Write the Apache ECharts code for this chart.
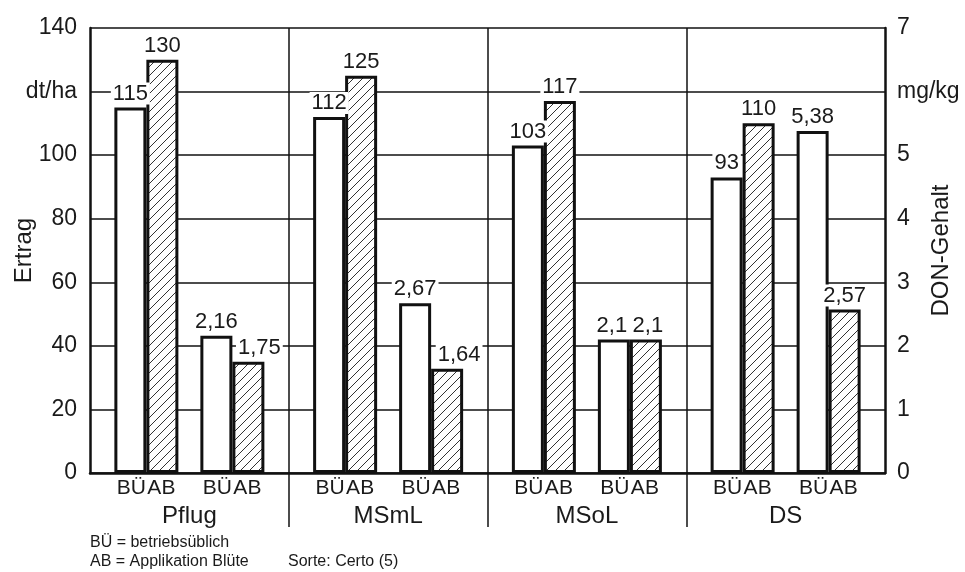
<!DOCTYPE html>
<html>
<head>
<meta charset="utf-8">
<script src="https://cdn.jsdelivr.net/npm/echarts@6/dist/echarts.min.js"></script>
<style>html,body{margin:0;padding:0;background:#fff;}#chart{width:965px;height:572px;}</style>
</head>
<body>
<div id="chart"></div>
<script>
const categories = ['Pflug', 'MSmL', 'MSoL', 'DS'];
const ertragBU = [115, 112, 103, 93];
const ertragAB = [130, 125, 117, 110];
const donBU = [2.16, 2.67, 2.1, 5.38];
const donAB = [1.75, 1.64, 2.1, 2.57];
const leftTicks = ['0', '20', '40', '60', '80', '100', 'dt/ha', '140'];
const rightTicks = ['0', '1', '2', '3', '4', '5', 'mg/kg', '7'];
const barNames = ['BÜ', 'AB'];
const footLeft = ['BÜ = betriebsüblich', 'AB = Applikation Blüte'];
const footRight = 'Sorte: Certo (5)';

// hatch pattern
const hc = document.createElement('canvas');
hc.width = 9; hc.height = 9;
const hx = hc.getContext('2d');
hx.fillStyle = '#fff'; hx.fillRect(0, 0, 9, 9);
hx.strokeStyle = '#333'; hx.lineWidth = 1;
hx.beginPath();
hx.moveTo(0, 9); hx.lineTo(9, 0);
hx.moveTo(-1, 1); hx.lineTo(1, -1);
hx.moveTo(8, 10); hx.lineTo(10, 8);
hx.stroke();

const FONT = 'Liberation Sans, Arial, sans-serif';
const TXT = '#1a1a1a';
const fmt = v => String(v).replace('.', ',');

function labelSeries(stack, name, yIdx, dx) {
  return {
    type: 'bar', stack: stack, yAxisIndex: yIdx, barWidth: 32, barGap: '0%', silent: true,
    data: categories.map(() => 0),
    itemStyle: { color: 'transparent', borderWidth: 0 },
    label: { show: true, position: 'bottom', distance: 5, offset: [dx, 0], formatter: name,
             fontSize: 21, fontFamily: FONT, color: TXT }
  };
}
function valueSeries(stack, values, yIdx, hatched, shifts) {
  return {
    type: 'bar', stack: stack, yAxisIndex: yIdx, barWidth: 32, barGap: '0%',
    data: values.map((v, i) => (shifts && shifts[i]) ? { value: v, label: { offset: [shifts[i], 0] } } : v),
    itemStyle: { color: hatched ? { image: hc, repeat: 'repeat' } : '#fff', borderColor: '#111', borderWidth: 3 },
    label: { show: true, position: 'top', distance: 3, formatter: p => fmt(p.value),
             fontSize: 22, fontFamily: FONT, color: TXT, backgroundColor: '#fff', padding: [0, 2] },
    z: 3
  };
}

const option = {
  animation: false,
  backgroundColor: '#fff',
  grid: [
    { left: 90, right: 80, top: 28, bottom: 99, containLabel: false, outerBoundsMode: 'none' },
    { left: 90, right: 80, top: 28, bottom: 45, containLabel: false, outerBoundsMode: 'none' }
  ],
  xAxis: [
    { type: 'category', data: categories, gridIndex: 0,
      axisLine: { show: true, lineStyle: { color: '#111', width: 2.5 } },
      axisTick: { show: false },
      axisLabel: { fontSize: 24, fontFamily: FONT, color: TXT, margin: 31 },
      splitLine: { show: false } },
    { type: 'value', gridIndex: 1, min: 0, max: 4, interval: 1,
      axisLine: { show: false }, axisTick: { show: false }, axisLabel: { show: false },
      splitLine: { show: true, showMinLine: false, showMaxLine: false, lineStyle: { color: '#111', width: 1.5 } } }
  ],
  yAxis: [
    { type: 'value', gridIndex: 0, min: 0, max: 140, interval: 20, position: 'left',
      name: 'Ertrag', nameLocation: 'middle', nameGap: 54, nameRotate: 90, nameMoveOverlap: false,
      nameTextStyle: { fontSize: 24, fontFamily: FONT, color: TXT },
      axisLine: { show: true, lineStyle: { color: '#111', width: 2.5 } },
      axisTick: { show: false },
      axisLabel: { fontSize: 23, fontFamily: FONT, color: TXT, margin: 13, formatter: v => leftTicks[Math.round(v / 20)] },
      splitLine: { show: true, lineStyle: { color: '#111', width: 1.5 } } },
    { type: 'value', gridIndex: 0, min: 0, max: 7, interval: 1, position: 'right',
      name: 'DON-Gehalt', nameLocation: 'middle', nameGap: 44, nameRotate: 90, nameMoveOverlap: false,
      nameTextStyle: { fontSize: 24, fontFamily: FONT, color: TXT },
      axisLine: { show: true, lineStyle: { color: '#111', width: 2.5 } },
      axisTick: { show: false },
      axisLabel: { fontSize: 23, fontFamily: FONT, color: TXT, margin: 12, formatter: v => rightTicks[Math.round(v)] },
      splitLine: { show: false } },
    { type: 'value', gridIndex: 1, show: false }
  ],
  series: [
    labelSeries('eBU', barNames[0], 0, 1),
    valueSeries('eBU', ertragBU, 0, false),
    labelSeries('eAB', barNames[1], 0, -1),
    valueSeries('eAB', ertragAB, 0, true),
    { type: 'bar', stack: 'gap', yAxisIndex: 0, barWidth: 22, barGap: '0%', silent: true,
      data: categories.map(() => 0), itemStyle: { color: 'transparent', borderWidth: 0 } },
    labelSeries('dBU', barNames[0], 1, 1),
    valueSeries('dBU', donBU, 1, false, [0, 0, -2, 0]),
    labelSeries('dAB', barNames[1], 1, -1),
    valueSeries('dAB', donAB, 1, true, [11, 12, 2, 0])
  ],
  graphic: [
    { type: 'text', left: 90, top: 535, style: { text: footLeft[0], font: '16px ' + FONT, fill: TXT } },
    { type: 'text', left: 90, top: 554, style: { text: footLeft[1], font: '16px ' + FONT, fill: TXT } },
    { type: 'text', left: 288, top: 554, style: { text: footRight, font: '16px ' + FONT, fill: TXT } }
  ]
};

const chart = echarts.init(document.getElementById('chart'), null, { renderer: 'canvas' });
chart.setOption(option);
</script>
</body>
</html>
